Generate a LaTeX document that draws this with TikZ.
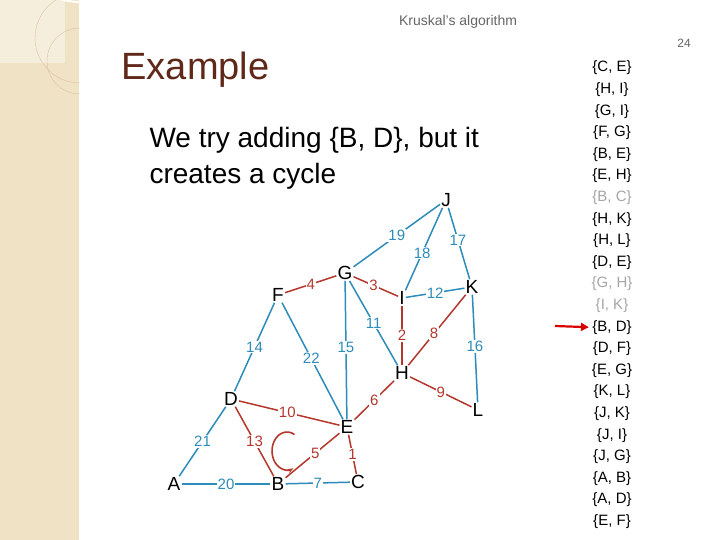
\documentclass[tikz,border=0pt]{standalone}
\usepackage{fontspec}
\setmainfont{Liberation Sans}
\usetikzlibrary{arrows.meta}
\definecolor{eb}{RGB}{45,140,185}
\definecolor{er}{RGB}{180,55,45}
\definecolor{beige}{RGB}{240,226,196}
\definecolor{brownt}{RGB}{95,40,25}
\begin{document}
\begin{tikzpicture}[x=1pt,y=-1pt,
 vx/.style={font=\fontsize{19}{19}\selectfont,inner sep=1pt,fill=white},
 bl/.style={draw=eb,line width=1.5pt},
 rd/.style={draw=er,line width=1.5pt},
 lb/.style={fill=white,inner sep=1pt,font=\fontsize{15}{15}\selectfont},
 li/.style={font=\fontsize{15}{15}\selectfont,anchor=center}]
\useasboundingbox (0,0) rectangle (720,540);
\fill[white] (0,0) rectangle (720,540);
\fill[beige] (0,0) rectangle (79,540);
\fill[beige!60!white] (0,0) rectangle (65,63);
\draw[white,line width=2pt] (80,2) arc[start angle=90,end angle=270,radius=67];
\draw[brown!50,line width=0.4pt] (80,83) arc[start angle=90,end angle=270,radius=45];
\draw[brown!50,line width=0.4pt] (80,94) arc[start angle=90,end angle=270,radius=33];
\node[gray!80!black,font=\fontsize{14}{14}\selectfont] (hd) at (458,22) {Kruskal's algorithm};
\node[gray!80!black,font=\fontsize{12}{12}\selectfont] (pg) at (684,43) {24};
\node[brownt,font=\fontsize{38}{38}\selectfont,anchor=west] (ti) at (118,70) {Example};
\node[font=\fontsize{28}{36}\selectfont,anchor=north west,align=left] (bd) at (146,124) {We try adding \{B, D\}, but it\\creates a cycle};
\fill[white] (163,189) rectangle (535,500);
% vertices
\node[vx] (J) at (446,200) {J};
\node[vx] (G) at (345,273) {G};
\node[vx] (F) at (278,295) {F};
\node[vx] (I) at (402,298) {I};
\node[vx] (K) at (472,287) {K};
\node[vx] (H) at (402,373) {H};
\node[vx] (L) at (478,410) {L};
\node[vx] (D) at (231,399) {D};
\node[vx] (E) at (347,427) {E};
\node[vx] (A) at (174,484) {A};
\node[vx] (B) at (278,484) {B};
\node[vx] (C) at (358,482) {C};
% edges
\draw[bl] (J)--node[lb,text=eb]{19}(G);
\draw[bl] (J)--node[lb,text=eb,pos=0.55]{18}(I);
\draw[bl] (J)--node[lb,text=eb,pos=0.45]{17}(K);
\draw[rd] (F)--node[lb,text=er]{4}(G);
\draw[rd] (G)--node[lb,text=er,pos=0.45]{3}(I);
\draw[bl] (I)--node[lb,text=eb]{12}(K);
\draw[bl] (G)--node[lb,text=eb,pos=0.5]{11}(H);
\draw[rd] (I)--node[lb,text=er]{2}(H);
\draw[rd] (K)--node[lb,text=er,pos=0.55]{8}(H);
\draw[bl] (F)--node[lb,text=eb]{14}(D);
\draw[bl] (F)--node[lb,text=eb,pos=0.48]{22}(E);
\draw[bl] (G)--node[lb,text=eb,pos=0.48]{15}(E);
\draw[bl] (K)--node[lb,text=eb,pos=0.48]{16}(L);
\draw[rd] (H)--node[lb,text=er]{9}(L);
\draw[rd] (E)--node[lb,text=er]{6}(H);
\draw[rd] (D)--node[lb,text=er,pos=0.48]{10}(E);
\draw[bl] (D)--node[lb,text=eb]{21}(A);
\draw[rd] (D)--node[lb,text=er]{13}(B);
\draw[rd] (B)--node[lb,text=er,pos=0.55]{5}(E);
\draw[rd] (E)--node[lb,text=er]{1}(C);
\draw[bl] (A)--node[lb,text=eb]{20}(B);
\draw[bl] (B)--node[lb,text=eb]{7}(C);
\draw[er,line width=1.6pt,-{Stealth[length=6pt]}] ({287+15*cos(300)},{451+19*sin(300)}) arc[start angle=300,end angle=65,x radius=15,y radius=19];
% list
\foreach \t/\c [count=\i] in {{\{C, E\}}/black,{\{H, I\}}/black,{\{G, I\}}/black,{\{F, G\}}/black,{\{B, E\}}/black,{\{E, H\}}/black,{\{B, C\}}/gray!70,{\{H, K\}}/black,{\{H, L\}}/black,{\{D, E\}}/black,{\{G, H\}}/gray!70,{\{I, K\}}/gray!70,{\{B, D\}}/black,{\{D, F\}}/black,{\{E, G\}}/black,{\{K, L\}}/black,{\{J, K\}}/black,{\{J, I\}}/black,{\{J, G\}}/black,{\{A, B\}}/black,{\{A, D\}}/black,{\{E, F\}}/black}
  \node[li,text=\c] (l\i) at (612,{68+(\i-1)*21.6}) {\t};
\draw[red!85!black,line width=2.2pt,-{Triangle[length=8pt,width=8pt]}] (555,326) -- (l13.west);
\end{tikzpicture}
\end{document}
